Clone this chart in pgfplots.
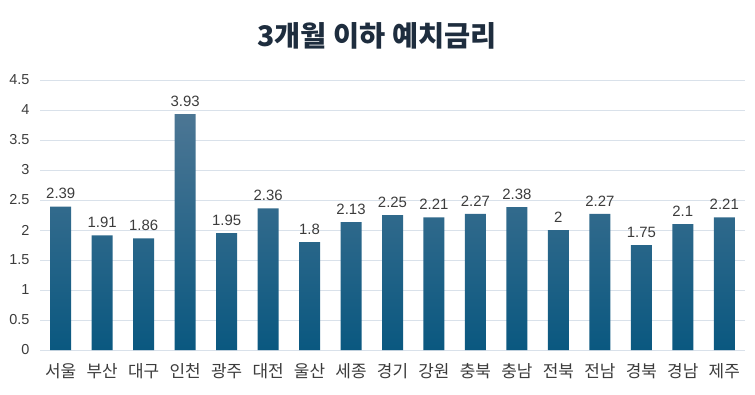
\documentclass[border=0pt]{standalone}
\usepackage{pgfplots}
\pgfplotsset{compat=1.18}
\usepackage{fontspec}
\setmainfont{Liberation Sans}
\newfontfamily\cjk{Noto Sans CJK KR}
\definecolor{bartop}{RGB}{76,118,148}
\definecolor{barbot}{RGB}{10,88,128}
\definecolor{gridc}{RGB}{217,225,234}
\definecolor{txt}{RGB}{60,60,60}
\definecolor{ttl}{RGB}{30,45,62}
\begin{document}
\begin{tikzpicture}[x=1bp,y=1bp]
\path[use as bounding box] (0,0) rectangle (755,394);
\node[font=\cjk\bfseries\fontsize{28.5}{32}\selectfont, text=ttl] at (377,358) {3개월 이하 예치금리};
\begin{axis}[
  at={(40bp,44bp)}, anchor=south west,
  scale only axis, width=705bp, height=270bp,
  xmin=-0.5, xmax=16.5, ymin=0, ymax=4.5,
  axis line style={draw=none},
  ytick={0,0.5,...,4.5},
  ymajorgrids, grid style={gridc, line width=0.9pt},
  xtick={0,...,16},
  xticklabels={서울,부산,대구,인천,광주,대전,울산,세종,경기,강원,충북,충남,전북,전남,경북,경남,제주},
  xticklabel style={font=\cjk\fontsize{17}{19}\selectfont, text=txt, yshift=-10bp},
  yticklabel style={font=\fontsize{14.5}{16}\selectfont, text=txt, xshift=-7bp},
  /pgf/number format/assume math mode=true,
  yticklabel={\pgfmathprintnumber[fixed]{\tick}},
  major tick length=0pt,
  clip=false,
  nodes near coords,
  nodes near coords style={font=\fontsize{15}{17}\selectfont, text=txt, anchor=south, yshift=4bp},
  point meta=explicit symbolic,
]
\addplot[ybar, bar width=21bp, draw=none, top color=bartop, bottom color=barbot] coordinates {
(0,2.39) [2.39] (1,1.91) [1.91] (2,1.86) [1.86] (3,3.93) [3.93] (4,1.95) [1.95]
(5,2.36) [2.36] (6,1.8) [1.8] (7,2.13) [2.13] (8,2.25) [2.25] (9,2.21) [2.21]
(10,2.27) [2.27] (11,2.38) [2.38] (12,2) [2] (13,2.27) [2.27] (14,1.75) [1.75]
(15,2.1) [2.1] (16,2.21) [2.21]
};
\end{axis}
\end{tikzpicture}
\end{document}
